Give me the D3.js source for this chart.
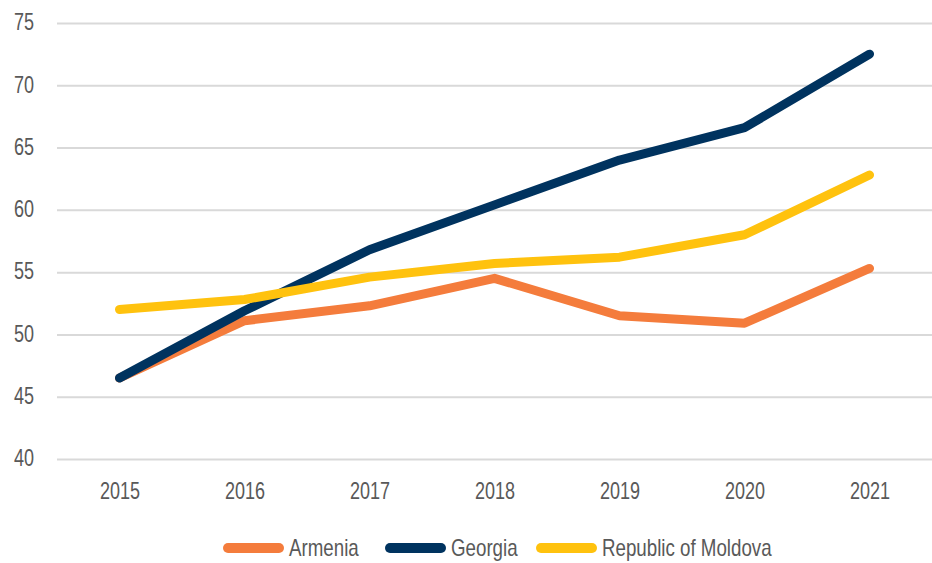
<!DOCTYPE html>
<html>
<head>
<meta charset="utf-8">
<script src="https://cdn.jsdelivr.net/npm/d3@7"></script>
<style>
  body { margin: 0; background: #fff; }
  text { font-family: "Liberation Sans", "Noto Sans", sans-serif; fill: #595959; }
</style>
</head>
<body>
<div id="chart-area"></div>
<script>
var years = ["2015", "2016", "2017", "2018", "2019", "2020", "2021"];
var armenia = [46.5, 51.1, 52.3, 54.5, 51.5, 50.9, 55.3];
var georgia = [46.5, 51.9, 56.8, 60.4, 64.0, 66.6, 72.5];
var moldova = [52.0, 52.8, 54.6, 55.7, 56.2, 58.0, 62.8];
var yTicks = [40, 45, 50, 55, 60, 65, 70, 75];

var series = [
  {name: "Armenia", values: armenia, color: "#F47C3C"},
  {name: "Georgia", values: georgia, color: "#00335F"},
  {name: "Republic of Moldova", values: moldova, color: "#FFC20E"}
];

var width = 932, height = 563;
var margin = {top: 23, left: 57, right: 0, bottom: 104};

var svg = d3.select("#chart-area")
  .append("svg")
  .attr("width", width)
  .attr("height", height);

var x = d3.scalePoint()
  .domain(years)
  .range([margin.left, width - margin.right])
  .padding(0.5);

var y = d3.scaleLinear()
  .domain([40, 75])
  .range([height - margin.bottom, margin.top]);

// squeeze text to look like a condensed face
function condense(sel, k) {
  sel.each(function() {
    var len = this.getComputedTextLength();
    d3.select(this)
      .attr("textLength", len * k)
      .attr("lengthAdjust", "spacingAndGlyphs");
  });
}

// gridlines
var yAxis = d3.axisLeft(y)
  .tickValues(yTicks)
  .tickSize(-(width - margin.left - margin.right))
  .tickPadding(23)
  .tickFormat(d3.format("d"));

var gy = svg.append("g")
  .attr("transform", "translate(" + margin.left + ",0)")
  .call(yAxis);
gy.select(".domain").remove();
gy.selectAll("line").attr("stroke", "#d9d9d9").attr("stroke-width", 2);
gy.selectAll("text")
  .attr("font-size", "24px")
  .attr("font-family", null)
  .style("fill", "#595959")
  .attr("dy", "0.28em")
  .call(condense, 0.75);

var xAxis = d3.axisBottom(x).tickSize(0).tickPadding(23);
var gx = svg.append("g")
  .attr("transform", "translate(0," + y(40) + ")")
  .call(xAxis);
gx.select(".domain").remove();
gx.selectAll("text")
  .attr("font-size", "24px")
  .attr("font-family", null)
  .style("fill", "#595959")
  .call(condense, 0.75);

var line = d3.line()
  .x(function(d, i) { return x(years[i]); })
  .y(function(d) { return y(d); });

svg.append("g")
  .selectAll("path")
  .data(series)
  .enter()
  .append("path")
  .attr("d", function(d) { return line(d.values); })
  .attr("fill", "none")
  .attr("stroke", function(d) { return d.color; })
  .attr("stroke-width", 9)
  .attr("stroke-linecap", "round")
  .attr("stroke-linejoin", "round");

// legend
var legendX = [223, 385, 536];
var legend = svg.append("g")
  .selectAll("g")
  .data(series)
  .enter()
  .append("g")
  .attr("transform", function(d, i) { return "translate(" + legendX[i] + ",548)"; });

legend.append("line")
  .attr("x1", 5).attr("x2", 56)
  .attr("y1", 0).attr("y2", 0)
  .attr("stroke", function(d) { return d.color; })
  .attr("stroke-width", 10)
  .attr("stroke-linecap", "round");

legend.append("text")
  .attr("x", 66)
  .attr("y", 0)
  .attr("dy", "0.35em")
  .attr("font-size", "24px")
  .text(function(d) { return d.name; })
  .call(condense, 0.78);
</script>
</body>
</html>
